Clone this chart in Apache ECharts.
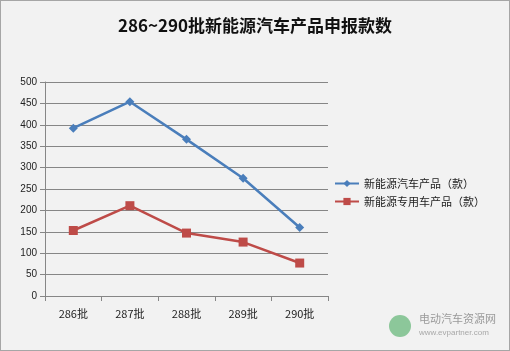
<!DOCTYPE html>
<html>
<head>
<meta charset="utf-8">
<script src="https://cdn.jsdelivr.net/npm/echarts@6/dist/echarts.min.js"></script>
<style>
html, body { margin: 0; padding: 0; background: #fff; }
#main { width: 508px; height: 349px; border: 1px solid #a6a6a6; background: #f2f2f2; }
</style>
</head>
<body>
<div id="main"></div>
<script>
// 数据
const categories = ['286批', '287批', '288批', '289批', '290批'];
const carProducts = [392, 454, 366, 275, 160];
const specialProducts = [153, 211, 147, 126, 77];

var myChart = echarts.init(document.getElementById('main'));
const option = {
    backgroundColor: '#f2f2f2',
    title: {
        text: '286~290批新能源汽车产品申报款数',
        left: 'center',
        top: 11,
        textStyle: { fontSize: 17, fontWeight: 'bold', color: '#111', fontFamily: 'Noto Sans CJK SC' }
    },
    legend: {
        orient: 'vertical',
        left: 328,
        top: 172,
        itemWidth: 24,
        itemHeight: 9,
        itemGap: 7,
        textStyle: { fontSize: 11, color: '#222', fontFamily: 'Noto Sans CJK SC' },
        data: ['新能源汽车产品（款）', '新能源专用车产品（款）']
    },
    grid: { left: 44, right: 181, top: 81, bottom: 54 },
    xAxis: {
        type: 'category',
        data: categories,
        axisLine: { lineStyle: { color: '#868686' } },
        axisTick: { show: true, alignWithLabel: false, lineStyle: { color: '#868686' } },
        axisLabel: { color: '#222', fontSize: 11, margin: 12, fontFamily: 'Noto Sans CJK SC' }
    },
    yAxis: {
        type: 'value',
        min: 0,
        max: 500,
        interval: 50,
        axisLine: { show: true, lineStyle: { color: '#868686' } },
        axisTick: { show: true, lineStyle: { color: '#868686' } },
        axisLabel: { color: '#222', fontSize: 10, margin: 8 },
        splitLine: { lineStyle: { color: '#868686' } }
    },
    series: [
        {
            name: '新能源汽车产品（款）',
            type: 'line',
            data: carProducts,
            symbol: 'diamond',
            symbolSize: 9,
            color: '#4a7ebb',
            lineStyle: { width: 2.5 }
        },
        {
            name: '新能源专用车产品（款）',
            type: 'line',
            data: specialProducts,
            symbol: 'rect',
            symbolSize: 9,
            color: '#be4b48',
            lineStyle: { width: 2.5 }
        }
    ],
    graphic: [
        { type: 'circle', shape: { cx: 399, cy: 325, r: 11 }, style: { fill: '#8cc79a' } },
        { type: 'text', left: 418, top: 312, style: { text: '电动汽车资源网', fill: '#9a9a9a', fontSize: 11, fontFamily: 'Noto Sans CJK SC' } },
        { type: 'text', left: 418, top: 328, style: { text: 'www.evpartner.com', fill: '#a8a8a8', fontSize: 8 } }
    ]
};
option && myChart.setOption(option);
window.onresize = () => { myChart.resize(); };
</script>
</body>
</html>
